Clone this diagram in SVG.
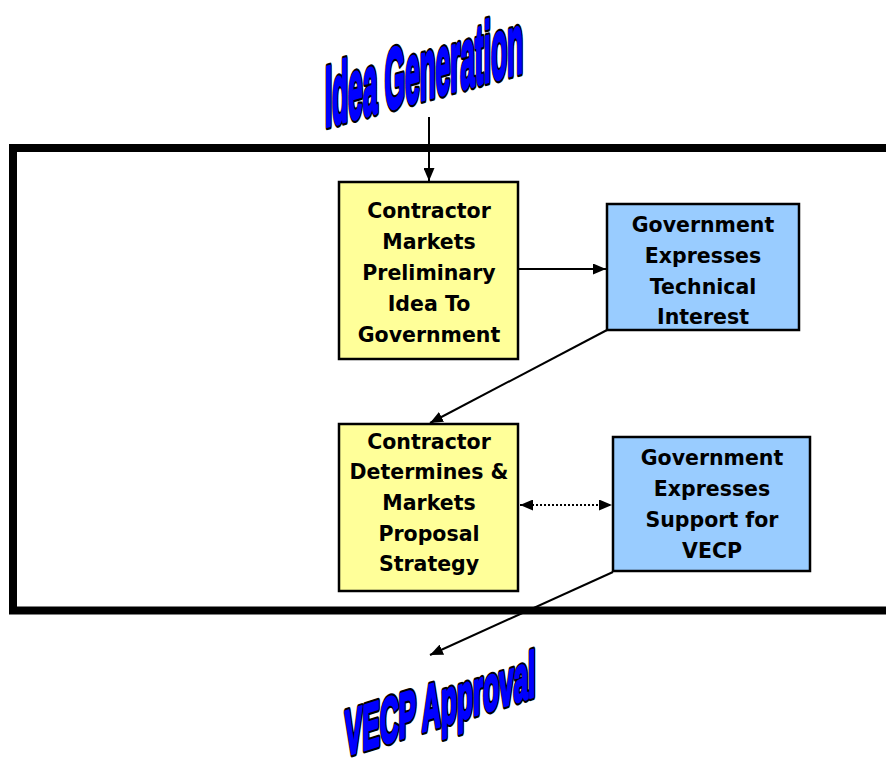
<svg xmlns="http://www.w3.org/2000/svg" width="886" height="763" viewBox="0 0 886 763">
<defs>
<marker id="ah" viewBox="0 0 13 11" refX="13" refY="5.5" markerWidth="13" markerHeight="11" markerUnits="userSpaceOnUse" orient="auto-start-reverse">
<path d="M0,0 L13,5.5 L0,11 Z" fill="#000"/>
</marker>
</defs>
<style>
.box{stroke:#000;stroke-width:2.5}
.y{fill:#FFFF99}
.b{fill:#99CCFF}
.t{font-family:"DejaVu Sans",Verdana,sans-serif;font-weight:bold;font-size:20.5px;fill:#000;text-anchor:middle}
.wa{font-family:"Liberation Sans",Arial,sans-serif;font-weight:bold}
.wo{fill:#000;stroke:#000;stroke-width:5.5;stroke-linejoin:round;vector-effect:non-scaling-stroke}
.wi{fill:#0000FF;stroke:#0000FF;stroke-width:2.2;stroke-linejoin:round;vector-effect:non-scaling-stroke}
.c{stroke:#000;stroke-width:2;fill:none}
</style>
<rect width="886" height="763" fill="#fff"/>
<rect id="frame" x="13" y="148" width="900" height="462.5" fill="none" stroke="#000" stroke-width="8"/>
<g id="idea-generation" transform="translate(325,127) skewY(-15.5) scale(0.305,1)">
<text class="wa wo" font-size="86">Idea Generation</text>
<text class="wa wi" font-size="86">Idea Generation</text>
</g>
<g id="vecp-approval" transform="translate(345,756) skewY(-17.5) scale(0.409,1)">
<text class="wa wo" font-size="64">VECP Approval</text>
<text class="wa wi" font-size="64">VECP Approval</text>
</g>
<g id="n1">
<rect class="box y" x="339" y="182" width="179" height="177"/>
<text class="t"><tspan x="429" y="218">Contractor</tspan><tspan x="429" y="249">Markets</tspan><tspan x="429" y="280">Preliminary</tspan><tspan x="429" y="311">Idea To</tspan><tspan x="429" y="342">Government</tspan></text>
</g>
<g id="n2">
<rect class="box b" x="607" y="204" width="192" height="126"/>
<text class="t"><tspan x="703" y="232">Government</tspan><tspan x="703" y="263">Expresses</tspan><tspan x="703" y="294">Technical</tspan><tspan x="703" y="324">Interest</tspan></text>
</g>
<g id="n3">
<rect class="box y" x="339" y="424" width="179" height="167"/>
<text class="t"><tspan x="429" y="449">Contractor</tspan><tspan x="429" y="479">Determines &amp;</tspan><tspan x="429" y="510">Markets</tspan><tspan x="429" y="541">Proposal</tspan><tspan x="429" y="571">Strategy</tspan></text>
</g>
<g id="n4">
<rect class="box b" x="613" y="437" width="197" height="134"/>
<text class="t"><tspan x="712" y="465">Government</tspan><tspan x="712" y="496">Expresses</tspan><tspan x="712" y="527">Support for</tspan><tspan x="712" y="558">VECP</tspan></text>
</g>
<g id="connectors">
<line class="c" x1="429" y1="117" x2="429" y2="181" marker-end="url(#ah)"/>
<line class="c" x1="519" y1="269" x2="606" y2="269" marker-end="url(#ah)"/>
<line class="c" x1="607" y1="330" x2="430" y2="423" marker-end="url(#ah)"/>
<line class="c" x1="520" y1="505" x2="612" y2="505" stroke-dasharray="2,2" marker-start="url(#ah)" marker-end="url(#ah)"/>
<line class="c" x1="613" y1="572" x2="430" y2="655" marker-end="url(#ah)"/>
</g>
</svg>
